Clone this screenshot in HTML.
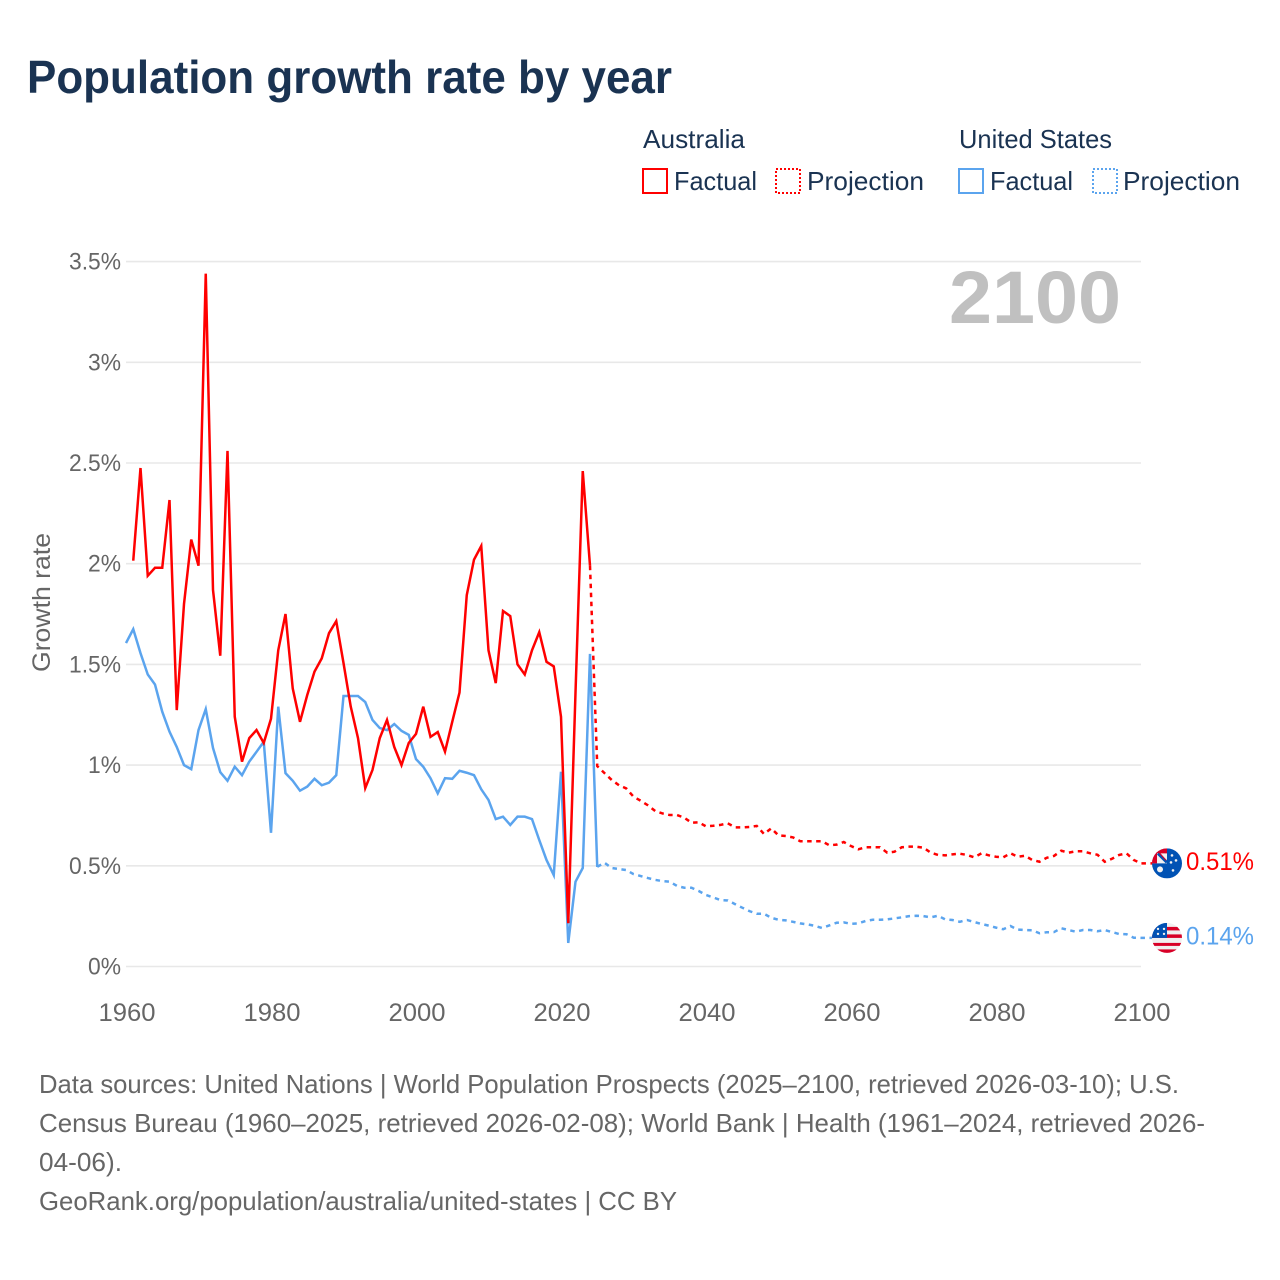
<!DOCTYPE html>
<html lang="en">
<head>
<meta charset="utf-8">
<title>Population growth rate by year</title>
<style>
html,body{margin:0;padding:0;background:#fff;}
svg{display:block;font-family:"Liberation Sans",sans-serif;}
</style>
</head>
<body>
<svg id="chart" width="1280" height="1280" viewBox="0 0 1280 1280" xmlns="http://www.w3.org/2000/svg">
  <defs>
    <clipPath id="clip-au"><circle cx="0" cy="0" r="15"/></clipPath>
    <clipPath id="clip-us"><circle cx="0" cy="0" r="15"/></clipPath>
  </defs>
  <text x="27" y="93" font-size="46" font-weight="700" fill="#1a3352" textLength="645" lengthAdjust="spacingAndGlyphs">Population growth rate by year</text>

  <g font-size="26" fill="#1a3352">
    <text x="643" y="148" textLength="102" lengthAdjust="spacingAndGlyphs">Australia</text>
    <text x="959" y="148" textLength="153" lengthAdjust="spacingAndGlyphs">United States</text>
    <rect x="643" y="169" width="24" height="24" fill="none" stroke="#ff0000" stroke-width="2"/>
    <text x="674" y="190" textLength="83" lengthAdjust="spacingAndGlyphs">Factual</text>
    <rect x="776" y="169" width="24" height="24" fill="none" stroke="#ff0000" stroke-width="2" stroke-dasharray="2 2"/>
    <text x="807" y="190" textLength="117" lengthAdjust="spacingAndGlyphs">Projection</text>
    <rect x="959" y="169" width="24" height="24" fill="none" stroke="#5ba4ee" stroke-width="2"/>
    <text x="990" y="190" textLength="83" lengthAdjust="spacingAndGlyphs">Factual</text>
    <rect x="1093" y="169" width="24" height="24" fill="none" stroke="#5ba4ee" stroke-width="2" stroke-dasharray="2 2"/>
    <text x="1123" y="190" textLength="117" lengthAdjust="spacingAndGlyphs">Projection</text>
  </g>

  <g id="grid"></g>
  <g id="y-ticks" font-size="24" fill="#666666" text-anchor="end"></g>
  <g id="x-ticks" font-size="25" fill="#666666" text-anchor="middle"></g>
  <text transform="translate(50,672) rotate(-90)" font-size="25" fill="#666666" textLength="139" lengthAdjust="spacingAndGlyphs">Growth rate</text>
  <text x="949" y="323" font-size="74" font-weight="700" fill="#c0c0c0" textLength="172" lengthAdjust="spacingAndGlyphs">2100</text>

  <g id="series"></g>

  <g id="flag-au">
    <g clip-path="url(#clip-au)">
      <rect x="-15" y="-15" width="30" height="30" fill="#0052b4"/>
      <rect x="-15" y="-15" width="15" height="15" fill="#f0f0f0"/>
      <rect x="-15" y="-15" width="15" height="5" fill="#d80027"/>
      <rect x="-15" y="-15" width="5" height="15" fill="#d80027"/>
      <path d="M-9 -10 L0 -1" stroke="#0052b4" stroke-width="3"/>
      <path d="M-8 -11 L-1 -3" stroke="#d80027" stroke-width="1"/>
      <circle cx="-7" cy="6" r="3" fill="#f0f0f0"/>
      <circle cx="5" cy="-8" r="1.3" fill="#f0f0f0"/>
      <circle cx="9" cy="-3" r="1.3" fill="#f0f0f0"/>
      <circle cx="4" cy="-1" r="1.3" fill="#f0f0f0"/>
      <circle cx="6" cy="7" r="1.3" fill="#f0f0f0"/>
    </g>
  </g>
  <g id="flag-us">
    <g clip-path="url(#clip-us)">
      <rect x="-15" y="-15" width="30" height="30" fill="#f0f0f0"/>
      <rect x="-15" y="-11" width="30" height="3.5" fill="#d80027"/>
      <rect x="-15" y="-3.5" width="30" height="3.5" fill="#d80027"/>
      <rect x="-15" y="5" width="30" height="3" fill="#d80027"/>
      <rect x="-15" y="11.5" width="30" height="4" fill="#d80027"/>
      <rect x="-15" y="-15" width="15" height="15" fill="#0052b4"/>
      <circle cx="-9" cy="-4" r="1.2" fill="#f0f0f0"/>
      <circle cx="-3" cy="-4" r="1.2" fill="#f0f0f0"/>
      <circle cx="-9" cy="-9" r="1.2" fill="#f0f0f0"/>
      <circle cx="-3" cy="-9" r="1.2" fill="#f0f0f0"/>
    </g>
  </g>
  <text id="label-au" x="1186" font-size="25" fill="#ff0000" textLength="68" lengthAdjust="spacingAndGlyphs"></text>
  <text id="label-us" x="1186" font-size="25" fill="#5ba4ee" textLength="68" lengthAdjust="spacingAndGlyphs"></text>

  <g font-size="26" fill="#666666">
    <text x="39" y="1093" textLength="1140" lengthAdjust="spacingAndGlyphs">Data sources: United Nations | World Population Prospects (2025–2100, retrieved 2026-03-10); U.S.</text>
    <text x="39" y="1132" textLength="1166" lengthAdjust="spacingAndGlyphs">Census Bureau (1960–2025, retrieved 2026-02-08); World Bank | Health (1961–2024, retrieved 2026-</text>
    <text x="39" y="1171" textLength="83" lengthAdjust="spacingAndGlyphs">04-06).</text>
    <text x="39" y="1210" textLength="638" lengthAdjust="spacingAndGlyphs">GeoRank.org/population/australia/united-states | CC BY</text>
  </g>
</svg>
<script>
const yTickValues = [0, 0.5, 1, 1.5, 2, 2.5, 3, 3.5];
const yTickLabels = ['0%', '0.5%', '1%', '1.5%', '2%', '2.5%', '3%', '3.5%'];
const xTickYears = [1960, 1980, 2000, 2020, 2040, 2060, 2080, 2100];

const auFactualStart = 1961;
const auFactual = [
  2.015, 2.475, 1.94, 1.98, 1.98, 2.316, 1.273, 1.80, 2.12,
  1.99, 3.44, 1.87, 1.543, 2.56, 1.24, 1.017, 1.134, 1.174, 1.11,
  1.23, 1.57, 1.75, 1.38, 1.215, 1.348, 1.464, 1.53, 1.655, 1.715,
  1.507, 1.29, 1.134, 0.886, 0.976, 1.134, 1.224, 1.09, 1.0, 1.11,
  1.155, 1.29, 1.14, 1.164, 1.067, 1.215, 1.36, 1.844, 2.02, 2.088,
  1.57, 1.407, 1.765, 1.74, 1.50, 1.45, 1.57, 1.66, 1.513, 1.49,
  1.24, 0.215, 1.36, 2.46, 1.99
];
const auProjectionStart = 2024;
const auProjection = [
  1.99, 0.995, 0.96, 0.926, 0.90, 0.884,
  0.843, 0.823, 0.80, 0.772, 0.76, 0.752, 0.752, 0.739, 0.714, 0.716,
  0.696, 0.699, 0.703, 0.711, 0.691, 0.691, 0.693, 0.698, 0.658, 0.686,
  0.651, 0.648, 0.641, 0.622, 0.622, 0.622, 0.622, 0.602, 0.605, 0.618,
  0.598, 0.582, 0.592, 0.592, 0.592, 0.565, 0.57, 0.592, 0.595, 0.595,
  0.59, 0.565, 0.554, 0.552, 0.557, 0.56, 0.554, 0.542, 0.562, 0.552,
  0.545, 0.542, 0.562, 0.545, 0.55, 0.529, 0.52, 0.54, 0.549, 0.575,
  0.565, 0.572, 0.572, 0.562, 0.555, 0.52, 0.535, 0.554, 0.562, 0.529,
  0.512
];
const usFactualStart = 1960;
const usFactual = [
  1.606, 1.675, 1.556, 1.45, 1.40, 1.265, 1.166, 1.09, 1.0, 0.98,
  1.174, 1.278, 1.085, 0.965, 0.922, 0.992, 0.95, 1.017, 1.066, 1.116,
  0.664, 1.29, 0.96, 0.922, 0.873, 0.893, 0.932, 0.90, 0.913, 0.95,
  1.343, 1.343, 1.343, 1.313, 1.224, 1.184, 1.174, 1.204, 1.17, 1.15,
  1.03, 0.992, 0.935, 0.86, 0.935, 0.932, 0.972, 0.962, 0.95, 0.88,
  0.827, 0.732, 0.744, 0.703, 0.744, 0.744, 0.732, 0.628, 0.529, 0.454,
  0.967, 0.117, 0.421, 0.489, 1.552, 0.494
];
const usProjectionStart = 2025;
const usProjection = [
  0.495, 0.515, 0.489, 0.484, 0.479,
  0.459, 0.449, 0.439, 0.43, 0.424, 0.421, 0.40, 0.391, 0.391, 0.375,
  0.355, 0.343, 0.33, 0.328, 0.31, 0.292, 0.275, 0.262, 0.262, 0.242,
  0.232, 0.229, 0.222, 0.214, 0.209, 0.202, 0.191, 0.204, 0.217, 0.219,
  0.212, 0.214, 0.226, 0.232, 0.232, 0.234, 0.239, 0.244, 0.25, 0.252,
  0.25, 0.244, 0.252, 0.234, 0.231, 0.222, 0.231, 0.221, 0.211, 0.203,
  0.193, 0.185, 0.201, 0.183, 0.181, 0.18, 0.165, 0.17, 0.171, 0.19,
  0.181, 0.173, 0.181, 0.181, 0.175, 0.181, 0.171, 0.161, 0.16, 0.143,
  0.142
];

const SVG_NS = 'http://www.w3.org/2000/svg';
const RED = '#ff0000';
const BLUE = '#5ba4ee';
const FLAG_OFFSET = 26;
function xScale(year) { return 126 + (year - 1960) * 7.25; }
function yScale(value) { return 966.5 - value * 201.4; }

function linePath(values, startYear, extendToFlag) {
  let d = values.map(function (v, i) {
    return (i ? 'L' : 'M') + xScale(startYear + i).toFixed(2) + ' ' + yScale(v).toFixed(2);
  }).join(' ');
  if (extendToFlag) {
    const lastYear = startYear + values.length - 1;
    d += ' L' + (xScale(lastYear) + FLAG_OFFSET).toFixed(2) + ' ' + yScale(values[values.length - 1]).toFixed(2);
  }
  return d;
}

const grid = document.getElementById('grid');
const yTicks = document.getElementById('y-ticks');
const xTicks = document.getElementById('x-ticks');
const seriesGroup = document.getElementById('series');

yTickValues.forEach(function (v, i) {
  const line = document.createElementNS(SVG_NS, 'line');
  
  
  line.setAttribute('x1', 126);
  line.setAttribute('x2', 1141);
  line.setAttribute('y1', yScale(v));
  line.setAttribute('y2', yScale(v));
  line.setAttribute('stroke', '#e8e8e8');
  line.setAttribute('stroke-width', 1.6);
  grid.appendChild(line);

  const t = document.createElementNS(SVG_NS, 'text');
  
  
  t.setAttribute('x', 121);
  t.setAttribute('y', yScale(v) + 8);
  t.setAttribute('textLength', yTickLabels[i].length > 2 ? 52 : 33);
  t.setAttribute('lengthAdjust', 'spacingAndGlyphs');
  t.textContent = yTickLabels[i];
  yTicks.appendChild(t);
});

xTickYears.forEach(function (year) {
  const t = document.createElementNS(SVG_NS, 'text');
  
  
  t.setAttribute('x', xScale(year) + 1);
  t.setAttribute('y', 1021);
  t.setAttribute('textLength', 57);
  t.setAttribute('lengthAdjust', 'spacingAndGlyphs');
  t.textContent = String(year);
  xTicks.appendChild(t);
});

function addSeries(values, startYear, color, dashed, name) {
  const p = document.createElementNS(SVG_NS, 'path');
  
  
  p.setAttribute('d', linePath(values, startYear, dashed));
  p.setAttribute('fill', 'none');
  p.setAttribute('stroke', color);
  p.setAttribute('stroke-width', 2.5);
  p.setAttribute('stroke-linejoin', 'miter');
  if (dashed) {
    p.setAttribute('stroke-dasharray', '4.5 4.5');
  }
  seriesGroup.appendChild(p);
}

addSeries(usProjection, usProjectionStart, BLUE, true, 'us-projection-line');
addSeries(auProjection, auProjectionStart, RED, true, 'australia-projection-line');
addSeries(usFactual, usFactualStart, BLUE, false, 'us-factual-line');
addSeries(auFactual, auFactualStart, RED, false, 'australia-factual-line');

const auLast = auProjection[auProjection.length - 1];
const usLast = usProjection[usProjection.length - 1];
const flagX = xScale(2100) + FLAG_OFFSET;
document.getElementById('flag-au').setAttribute('transform', 'translate(' + flagX + ',' + yScale(auLast) + ')');
document.getElementById('flag-us').setAttribute('transform', 'translate(' + flagX + ',' + yScale(usLast) + ')');
const labelAu = document.getElementById('label-au');
labelAu.setAttribute('y', yScale(auLast) + 6.5);
labelAu.textContent = auLast.toFixed(2) + '%';
const labelUs = document.getElementById('label-us');
labelUs.setAttribute('y', yScale(usLast) + 6.5);
labelUs.textContent = usLast.toFixed(2) + '%';
</script>
</body>
</html>
